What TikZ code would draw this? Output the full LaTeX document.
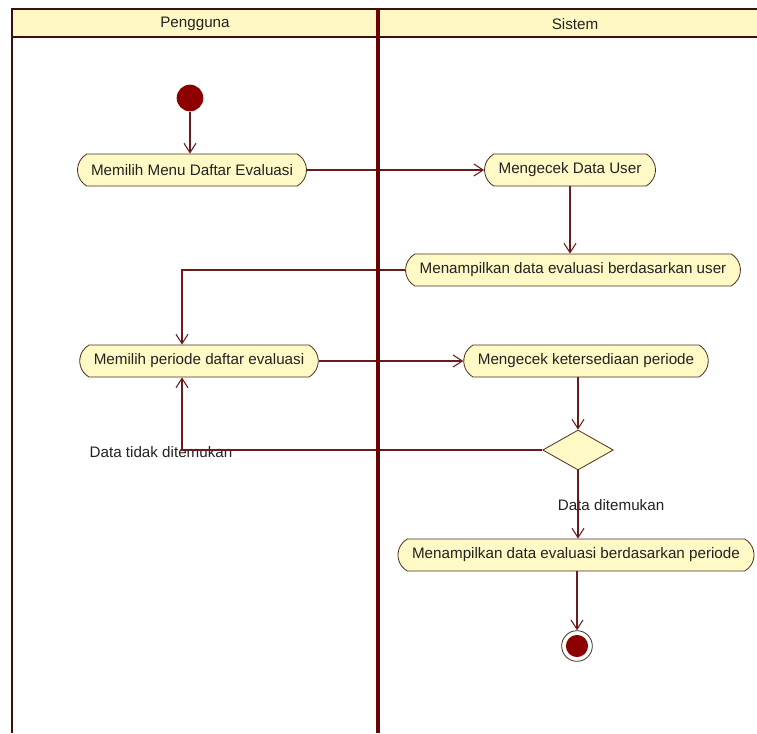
\documentclass[tikz,border=0pt]{standalone}
\usepackage{fontspec}
\setmainfont{Liberation Sans}
\usetikzlibrary{positioning, calc}
\usetikzlibrary{shapes.misc, shapes.geometric}
\usetikzlibrary{arrows.meta}

\definecolor{laneline}{HTML}{3C0E0E}
\definecolor{lanebar}{HTML}{6A0404}
\definecolor{headfill}{HTML}{FFF8C4}
\definecolor{actfill}{HTML}{FFF9C6}
\definecolor{actline}{HTML}{4A3020}
\definecolor{flowcol}{HTML}{6A1C1C}
\definecolor{dotred}{HTML}{8C0000}
\definecolor{txt}{HTML}{222222}

\tikzset{
  act/.style={rounded rectangle, rounded rectangle arc length=120, draw=actline, line width=0.6pt,
    fill=actfill, minimum height=24pt, inner xsep=9.5pt, font=\fontsize{11.4}{13}\selectfont, text=txt},
  lanehead/.style={font=\fontsize{11.4}{13}\selectfont, text=txt},
  guard/.style={font=\fontsize{11.4}{13}\selectfont, text=txt, inner sep=1pt},
  flow/.style={draw=flowcol, line width=0.8pt, -{Straight Barb[length=7pt,width=9pt]}},
  decision/.style={diamond, draw=actline, line width=0.6pt, fill=actfill, minimum width=53pt, minimum height=30pt, inner sep=0pt},
  startdot/.style={circle, fill=dotred, minimum size=20pt, inner sep=0pt},
  enddot/.style={circle, draw=actline, line width=0.6pt, fill=white, minimum size=23pt, inner sep=0pt,
    path picture={\fill[dotred] (path picture bounding box.center) circle (8.3pt);}}
}

\begin{document}
\begin{tikzpicture}[x=0.75pt, y=-0.75pt]
  \useasboundingbox (0,0) rectangle (757,733);

  % swimlane heads
  \fill[headfill] (12,9) rectangle (757,37);
  \node[lanehead] (pengguna) at (195,24) {Pengguna};
  \node[lanehead] (sistem) at (575,24) {Sistem};

  \node[startdot] (start) at (190,98) {};
  \node[act] (menu) at (192,170) {Memilih Menu Daftar Evaluasi};
  \node[act] (cekuser) at (570,170) {Mengecek Data User};
  \node[act] (tampiluser) at (573,270) {Menampilkan data evaluasi berdasarkan user};
  \node[act] (periode) at (199,361) {Memilih periode daftar evaluasi};
  \node[act] (cekperiode) at (586,361) {Mengecek ketersediaan periode};
  \node[decision] (ada) at (578,450) {};
  \node[act] (tampilperiode) at (576,555) {Menampilkan data evaluasi berdasarkan periode};
  \node[enddot] (end) at (577,646) {};

  \node[guard] (tidak) at (161,452) {Data tidak ditemukan};
  \node[guard] (ditemukan) at (611,505) {Data ditemukan};

  \draw[flow] (start) -- (start |- menu.north);
  \draw[flow] (menu.east) -- (cekuser.west);
  \draw[flow] (cekuser.south) -- (cekuser.south |- tampiluser.north);
  \draw[flow] (tampiluser.west) -| ($(periode.north)+(-17,0)$);
  \draw[flow] (periode.east) -- (cekperiode.west);
  \draw[flow] (cekperiode.south -| ada) -- (ada.north);
  \draw[flow] (ada.west) -| ($(periode.south)+(-17,0)$);
  \draw[flow] (ada.south) -- (ada.south |- tampilperiode.north);
  \draw[flow] (tampilperiode.south -| end) -- (end.north);

  % frame
  \draw[laneline, line width=1.6pt] (757,9) -- (12,9) -- (12,733);
  \draw[laneline, line width=2pt] (12,37) -- (757,37);
  \draw[lanebar, line width=3pt] (378,9) -- (378,733);
\end{tikzpicture}
\end{document}
